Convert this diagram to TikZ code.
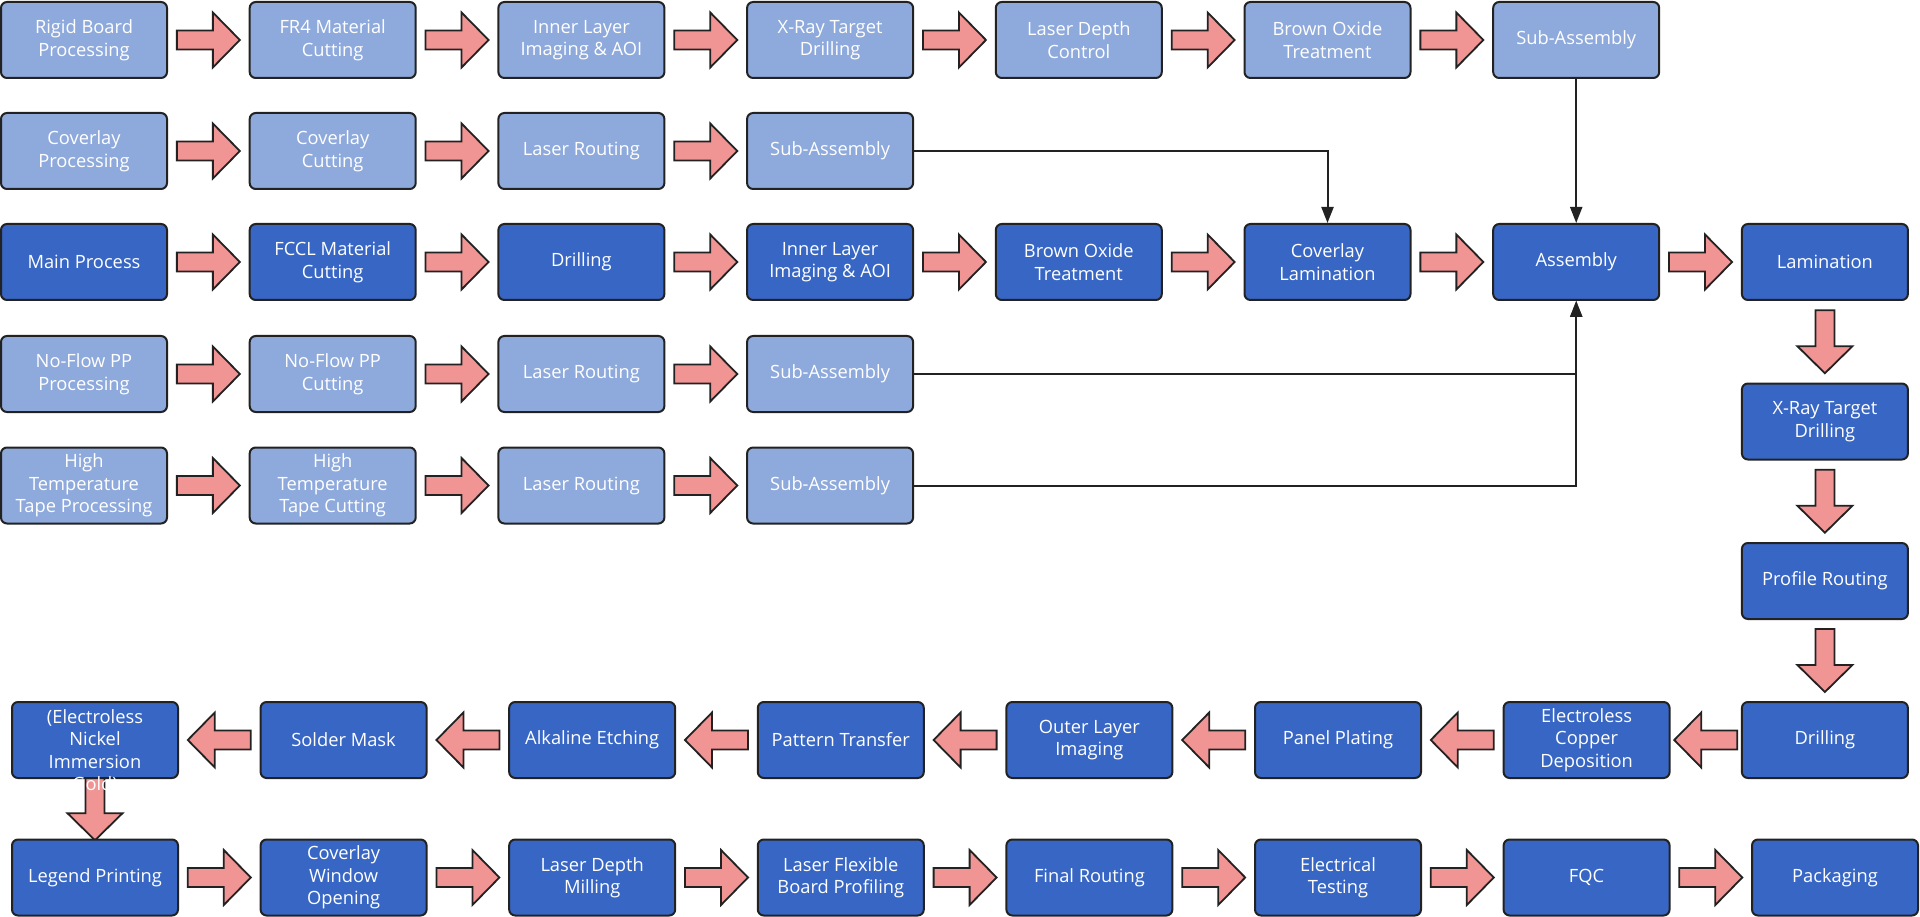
\documentclass[tikz,border=0pt]{standalone}
\usepackage{fontspec}
\setmainfont{Open Sans}
\usetikzlibrary{calc,arrows.meta}
\definecolor{lightbox}{HTML}{8EA9DB}
\definecolor{darkbox}{HTML}{3766C4}
\definecolor{pinkarr}{HTML}{F09494}
\definecolor{edge}{HTML}{222222}
\pgfdeclarelayer{bg}
\pgfsetlayers{bg,main}
\tikzset{
 box/.style={draw=edge, line width=2pt, rounded corners=6pt, minimum width=166pt, minimum height=76pt,
   text=white, inner sep=2pt, font=\fontsize{18.3}{22.5}\selectfont},
 lbox/.style={box, align=center, fill=lightbox},
 dbox/.style={box, align=center, fill=darkbox},
 dboxfree/.style={box, fill=darkbox},
 fatarrow/.style={draw=edge, line width=1.8pt, fill=pinkarr, line join=miter},
 link/.style={draw=edge, line width=2pt, -{Triangle[width=12pt,length=16pt]}},
}
\newcommand\fat[3]{%
 \begin{scope}[shift={($(#1)!0.5!(#2)$)}, rotate=#3]
 \draw[fatarrow] (-31.5,-9.5) -- (4.5,-9.5) -- (4.5,-27.5) -- (31.5,0) -- (4.5,27.5) -- (4.5,9.5) -- (-31.5,9.5) -- cycle;
 \end{scope}}
\begin{document}
\begin{tikzpicture}[x=1pt,y=-1pt]
\begin{pgfonlayer}{bg}
\fill[white] (0,0) rectangle (1920,917);
\end{pgfonlayer}
\useasboundingbox (0,0) rectangle (1920,917);
% row 1
\node[lbox] (a1) at (84,40) {Rigid Board\\Processing};
\node[lbox] (a2) at (332.7,40) {FR4 Material\\Cutting};
\node[lbox] (a3) at (581.4,40) {Inner Layer\\Imaging \& AOI};
\node[lbox] (a4) at (830.1,40) {X-Ray Target\\Drilling};
\node[lbox] (a5) at (1078.8,40) {Laser Depth\\Control};
\node[lbox] (a6) at (1327.5,40) {Brown Oxide\\Treatment};
\node[lbox] (a7) at (1576.2,40) {Sub-Assembly};
% row 2
\node[lbox] (b1) at (84,151) {Coverlay\\Processing};
\node[lbox] (b2) at (332.7,151) {Coverlay\\Cutting};
\node[lbox] (b3) at (581.4,151) {Laser Routing};
\node[lbox] (b4) at (830.1,151) {Sub-Assembly};
% row 3
\node[dbox] (c1) at (84,262) {Main Process};
\node[dbox] (c2) at (332.7,262) {FCCL Material\\Cutting};
\node[dbox] (c3) at (581.4,262) {Drilling};
\node[dbox] (c4) at (830.1,262) {Inner Layer\\Imaging \& AOI};
\node[dbox] (c5) at (1078.8,262) {Brown Oxide\\Treatment};
\node[dbox] (c6) at (1327.5,262) {Coverlay\\Lamination};
\node[dbox] (c7) at (1576.2,262) {Assembly};
\node[dbox] (c8) at (1824.9,262) {Lamination};
% row 4
\node[lbox] (d1) at (84,374) {No-Flow PP\\Processing};
\node[lbox] (d2) at (332.7,374) {No-Flow PP\\Cutting};
\node[lbox] (d3) at (581.4,374) {Laser Routing};
\node[lbox] (d4) at (830.1,374) {Sub-Assembly};
% row 5
\node[lbox] (e1) at (84,485.5) {High\\Temperature\\Tape Processing};
\node[lbox] (e2) at (332.7,485.5) {High\\Temperature\\Tape Cutting};
\node[lbox] (e3) at (581.4,485.5) {Laser Routing};
\node[lbox] (e4) at (830.1,485.5) {Sub-Assembly};
% vertical column
\node[dbox] (v1) at (1824.9,421.5) {X-Ray Target\\Drilling};
\node[dbox] (v2) at (1824.9,581) {Profile Routing};
\node[dbox] (v3) at (1824.9,740) {Drilling};
% row 8
\node[dbox] (g7) at (1586.6,740) {Electroless\\Copper\\Deposition};
\node[dbox] (g6) at (1338,740) {Panel Plating};
\node[dbox] (g5) at (1089.4,740) {Outer Layer\\Imaging};
\node[dbox] (g4) at (840.8,740) {Pattern Transfer};
\node[dbox] (g3) at (592.2,740) {Alkaline Etching};
\node[dbox] (g2) at (343.6,740) {Solder Mask};
\node[dboxfree] (g1) at (95,740) {\raisebox{-11pt}{\smash{\begin{tabular}{@{}c@{}}ENIG\\(Electroless\\Nickel\\Immersion\\Gold)\end{tabular}}}};
% row 9
\node[dbox] (h1) at (95,877.5) {Legend Printing};
\node[dbox] (h2) at (343.6,877.5) {Coverlay\\Window\\Opening};
\node[dbox] (h3) at (592.2,877.5) {Laser Depth\\Milling};
\node[dbox] (h4) at (840.8,877.5) {Laser Flexible\\Board Profiling};
\node[dbox] (h5) at (1089.4,877.5) {Final Routing};
\node[dbox] (h6) at (1338,877.5) {Electrical\\Testing};
\node[dbox] (h7) at (1586.6,877.5) {FQC};
\node[dbox] (h8) at (1835,877.5) {Packaging};
% block arrows
\begin{pgfonlayer}{bg}
\fat{a1.east}{a2.west}{0}\fat{a2.east}{a3.west}{0}\fat{a3.east}{a4.west}{0}
\fat{a4.east}{a5.west}{0}\fat{a5.east}{a6.west}{0}\fat{a6.east}{a7.west}{0}
\fat{b1.east}{b2.west}{0}\fat{b2.east}{b3.west}{0}\fat{b3.east}{b4.west}{0}
\fat{c1.east}{c2.west}{0}\fat{c2.east}{c3.west}{0}\fat{c3.east}{c4.west}{0}
\fat{c4.east}{c5.west}{0}\fat{c5.east}{c6.west}{0}\fat{c6.east}{c7.west}{0}
\fat{c7.east}{c8.west}{0}
\fat{d1.east}{d2.west}{0}\fat{d2.east}{d3.west}{0}\fat{d3.east}{d4.west}{0}
\fat{e1.east}{e2.west}{0}\fat{e2.east}{e3.west}{0}\fat{e3.east}{e4.west}{0}
\fat{c8.south}{v1.north}{-90}\fat{v1.south}{v2.north}{-90}\fat{v2.south}{v3.north}{-90}
\fat{v3.west}{g7.east}{180}\fat{g7.west}{g6.east}{180}\fat{g6.west}{g5.east}{180}
\fat{g5.west}{g4.east}{180}\fat{g4.west}{g3.east}{180}\fat{g3.west}{g2.east}{180}
\fat{g2.west}{g1.east}{180}
\fat{g1.south}{h1.north}{-90}
\fat{h1.east}{h2.west}{0}\fat{h2.east}{h3.west}{0}\fat{h3.east}{h4.west}{0}
\fat{h4.east}{h5.west}{0}\fat{h5.east}{h6.west}{0}\fat{h6.east}{h7.west}{0}
\fat{h7.east}{h8.west}{0}
\end{pgfonlayer}
% connectors
\draw[link] (a7.south) -- (c7.north);
\draw[link] (b4.east) -| (c6.north);
\draw[link] (d4.east) -| (c7.south);
\draw[link] (e4.east) -| (c7.south);
\end{tikzpicture}
\end{document}
